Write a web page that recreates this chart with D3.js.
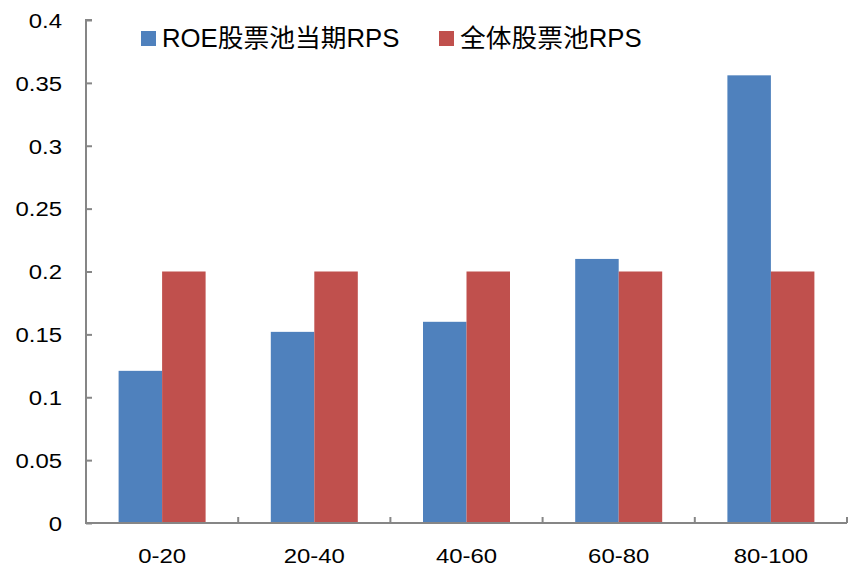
<!DOCTYPE html>
<html>
<head>
<meta charset="utf-8">
<script src="https://cdn.jsdelivr.net/npm/d3@7"></script>
<style>
  body { margin: 0; background: #fff; }
  text { font-family: "Liberation Sans", Arial, "Noto Sans CJK SC", sans-serif; fill: #000; }
</style>
</head>
<body>
<div id="chart"></div>
<script>
var w = 848, h = 567;

// data ==========================================================
var categories = ["0-20", "20-40", "40-60", "60-80", "80-100"];
var seriesNames = ["ROE股票池当期RPS", "全体股票池RPS"];
var roeRps = [0.121, 0.152, 0.160, 0.210, 0.356];
var allRps = [0.2, 0.2, 0.2, 0.2, 0.2];
var yTicks = [0, 0.05, 0.1, 0.15, 0.2, 0.25, 0.3, 0.35, 0.4];
var colors = ["#4F81BD", "#C0504D"];
// ===============================================================

var margin = {left: 86, right: 1, top: 20, bottom: 44};
var stretch = 1.14;   // labels in the original are a bit wide

var svg = d3.select("#chart")
            .append("svg")
            .attr("width", w)
            .attr("height", h);

var x = d3.scaleBand()
          .domain(categories)
          .range([margin.left, w - margin.right]);

var inner = d3.scaleBand()
              .domain([0, 1])
              .range([0, 87]);

var y = d3.scaleLinear()
          .domain([0, 0.4])
          .range([h - margin.bottom, margin.top]);

// bars
var rows = categories.map(function(c, i){ return {cat: c, vals: [roeRps[i], allRps[i]]}; });

var groups = svg.selectAll("g.grp")
    .data(rows)
    .enter()
    .append("g")
    .attr("class", "grp")
    .attr("transform", function(d){ return "translate(" + (x(d.cat) + x.bandwidth()/2 - 43.5) + ",0)"; });

groups.selectAll("rect")
    .data(function(d){ return d.vals; })
    .enter()
    .append("rect")
    .attr("x", function(d, i){ return inner(i); })
    .attr("width", inner.bandwidth())
    .attr("y", function(d){ return y(d); })
    .attr("height", function(d){ return y(0) - y(d); })
    .attr("fill", function(d, i){ return colors[i]; });

// y axis
var yAxis = svg.append("g")
    .attr("transform", "translate(" + margin.left + ",0)")
    .call(d3.axisRight(y).tickValues(yTicks).tickSize(6).tickFormat(d3.format("")));
yAxis.select(".domain").attr("stroke", "#868686").attr("stroke-width", 2)
     .attr("d", "M6," + y(0.4) + "H0V" + y(0));
yAxis.selectAll(".tick line").attr("stroke", "#868686").attr("stroke-width", 2);
yAxis.selectAll(".tick text")
     .attr("x", 0)
     .attr("transform", "translate(-24,0) scale(" + stretch + ",1)")
     .attr("text-anchor", "end")
     .attr("dy", "0.35em")
     .style("font-size", "21px")
     .style("fill", "#000");

// x axis
var xAxis = svg.append("g")
    .attr("transform", "translate(0," + y(0) + ")");
xAxis.append("line")
     .attr("x1", margin.left - 1).attr("x2", w - margin.right)
     .attr("stroke", "#868686").attr("stroke-width", 2);
xAxis.selectAll("line.tk")
     .data(categories.slice(1).concat(["end"]))
     .enter()
     .append("line")
     .attr("class", "tk")
     .attr("x1", function(d, i){ return margin.left + x.bandwidth() * (i + 1); })
     .attr("x2", function(d, i){ return margin.left + x.bandwidth() * (i + 1); })
     .attr("y1", 0).attr("y2", -6)
     .attr("stroke", "#868686").attr("stroke-width", 2);
xAxis.selectAll("text")
     .data(categories)
     .enter()
     .append("text")
     .attr("transform", function(d){ return "translate(" + (x(d) + x.bandwidth()/2) + ",40) scale(" + stretch + ",1)"; })
     .attr("text-anchor", "middle")
     .style("font-size", "21px")
     .text(function(d){ return d; });

// legend
var legendX = [141, 439];
var legend = svg.selectAll("g.legend")
    .data(seriesNames)
    .enter()
    .append("g")
    .attr("class", "legend")
    .attr("transform", function(d, i){ return "translate(" + legendX[i] + ",31)"; });
legend.append("rect")
      .attr("width", 15).attr("height", 15)
      .attr("fill", function(d, i){ return colors[i]; });
legend.append("text")
      .attr("transform", "translate(21,16) scale(1.03,1)")
      .style("font-size", "25px")
      .text(function(d){ return d; });
</script>
</body>
</html>
